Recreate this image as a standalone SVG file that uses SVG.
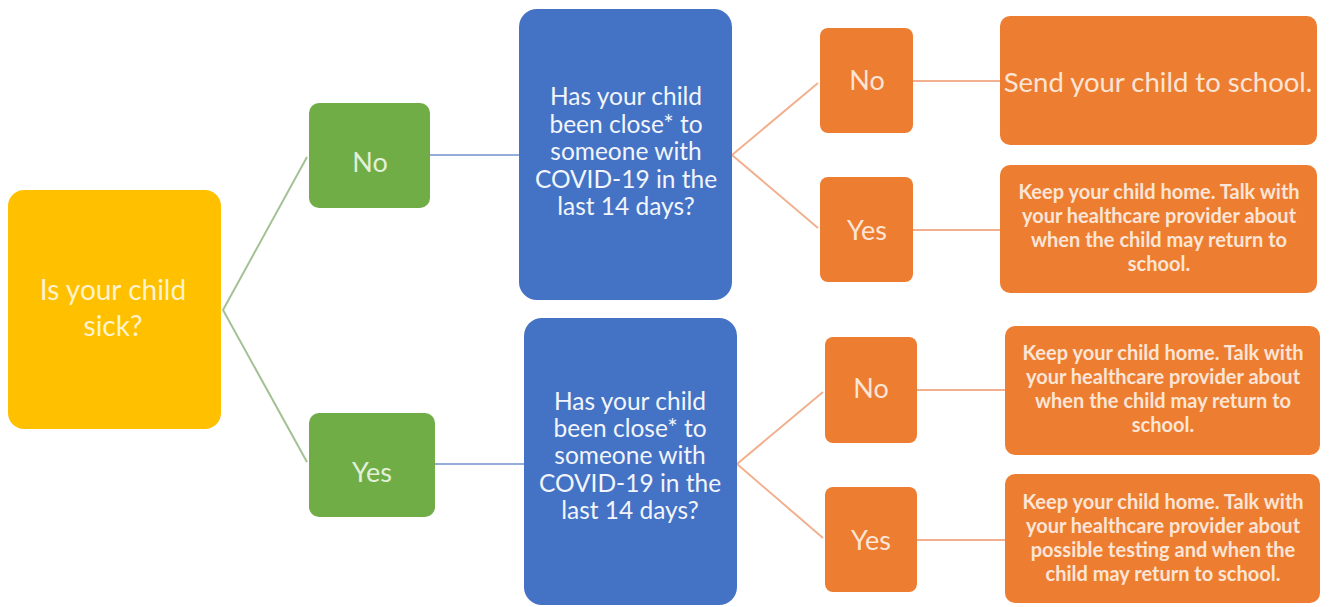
<svg xmlns="http://www.w3.org/2000/svg" width="1330" height="607" viewBox="0 0 1330 607">
<style>
text{font-family:Lato,"Open Sans","Liberation Sans",sans-serif;text-anchor:middle}
.y{fill:#FFC000}.g{fill:#70AD47}.b{fill:#4472C4}.o{fill:#ED7D31}
.ty{fill:#FFF2CC;font-size:28px}
.tg{fill:#E2F0D9;font-size:27px}
.tb{fill:#F2F5FC;font-size:24.5px}
.to{fill:#FBE5D6;font-size:27px}
.ts{fill:#FBE5D6;font-size:20px;font-weight:bold}
.tl{fill:#FBE5D6;font-size:27.5px}
.cg{stroke:#A3C193;stroke-width:2;fill:none}
.cb{stroke:#95ADDA;stroke-width:2;fill:none}
.co{stroke:#F2B08E;stroke-width:2;fill:none}
</style>
<rect width="1330" height="607" fill="#FFFFFF"/>
<g id="connectors">
<polyline class="cg" points="307,157 223,310 307,462"/>
<line class="cb" x1="430" y1="155" x2="519" y2="155"/>
<line class="cb" x1="435" y1="464" x2="524" y2="464"/>
<polyline class="co" points="818,83 732,155 818,228"/>
<polyline class="co" points="823,392 737,464 823,538"/>
<line class="co" x1="913" y1="81" x2="1000" y2="81"/>
<line class="co" x1="913" y1="230" x2="1000" y2="230"/>
<line class="co" x1="917" y1="390" x2="1005" y2="390"/>
<line class="co" x1="917" y1="540" x2="1005" y2="540"/>
</g>
<g id="sick">
<rect class="y" x="8" y="190" width="213" height="239" rx="16"/>
<text class="ty" x="113" y="300">Is your child</text>
<text class="ty" x="113" y="336">sick?</text>
</g>
<g id="no1">
<rect class="g" x="309" y="103" width="121" height="105" rx="10"/>
<text class="tg" x="370" y="172">No</text>
</g>
<g id="yes1">
<rect class="g" x="309" y="413" width="126" height="104" rx="10"/>
<text class="tg" x="372" y="482">Yes</text>
</g>
<g id="close1">
<rect class="b" x="519" y="9" width="213" height="291" rx="18"/>
<text class="tb" x="626" y="105">Has your child</text>
<text class="tb" x="626" y="133">been close* to</text>
<text class="tb" x="626" y="160">someone with</text>
<text class="tb" x="626" y="188">COVID-19 in the</text>
<text class="tb" x="626" y="215">last 14 days?</text>
</g>
<g id="close2">
<rect class="b" x="524" y="318" width="213" height="287" rx="18"/>
<text class="tb" x="630" y="410">Has your child</text>
<text class="tb" x="630" y="437">been close* to</text>
<text class="tb" x="630" y="464">someone with</text>
<text class="tb" x="630" y="492">COVID-19 in the</text>
<text class="tb" x="630" y="519">last 14 days?</text>
</g>
<g id="no1a">
<rect class="o" x="820" y="28" width="93" height="105" rx="8"/>
<text class="to" x="867" y="90">No</text>
</g>
<g id="yes1a">
<rect class="o" x="820" y="177" width="93" height="105" rx="8"/>
<text class="to" x="867" y="240">Yes</text>
</g>
<g id="no2a">
<rect class="o" x="825" y="337" width="92" height="106" rx="8"/>
<text class="to" x="871" y="398">No</text>
</g>
<g id="yes2a">
<rect class="o" x="825" y="487" width="92" height="105" rx="8"/>
<text class="to" x="871" y="550">Yes</text>
</g>
<g id="send">
<rect class="o" x="1000" y="16" width="317" height="129" rx="10"/>
<text class="tl" x="1158" y="92">Send your child to school.</text>
</g>
<g id="home1">
<rect class="o" x="1000" y="165" width="317" height="128" rx="10"/>
<text class="ts" x="1159" y="199">Keep your child home. Talk with</text>
<text class="ts" x="1159" y="223">your healthcare provider about</text>
<text class="ts" x="1159" y="247">when the child may return to</text>
<text class="ts" x="1159" y="271">school.</text>
</g>
<g id="home2">
<rect class="o" x="1005" y="326" width="315" height="129" rx="10"/>
<text class="ts" x="1163" y="360">Keep your child home. Talk with</text>
<text class="ts" x="1163" y="384">your healthcare provider about</text>
<text class="ts" x="1163" y="408">when the child may return to</text>
<text class="ts" x="1163" y="432">school.</text>
</g>
<g id="home3">
<rect class="o" x="1005" y="474" width="315" height="129" rx="10"/>
<text class="ts" x="1163" y="509">Keep your child home. Talk with</text>
<text class="ts" x="1163" y="533">your healthcare provider about</text>
<text class="ts" x="1163" y="557">possible testing and when the</text>
<text class="ts" x="1163" y="581">child may return to school.</text>
</g>
</svg>
